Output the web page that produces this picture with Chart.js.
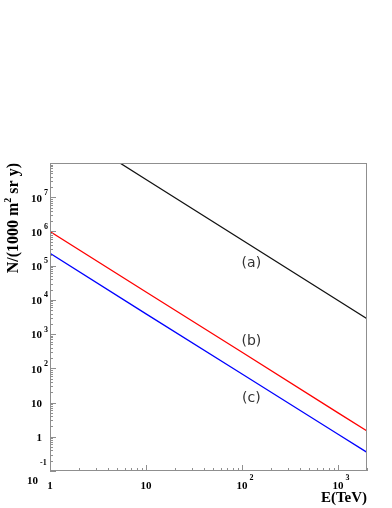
<!DOCTYPE html>
<html>
<head>
<meta charset="utf-8">
<script src="https://cdn.jsdelivr.net/npm/chart.js@4.4.0/dist/chart.umd.min.js"></script>
<style>
html, body { margin: 0; padding: 0; background: #fff; }
canvas { display: block; }
</style>
</head>
<body>
<canvas id="fluxChart" width="392" height="508"></canvas>
<script>
// values (log-log, straight lines)
const energies = [1, 10, 100, 1000, 2000];
const curveA = [1.95e9, 3.3e7, 5.6e5, 9.6e3, 2.8e3];
const curveB = [1.0e6, 1.7e4, 294, 5.0, 1.48];
const curveC = [2.3e5, 3.9e3, 68, 1.19, 0.35];

const curveNames = ['(a)', '(b)', '(c)'];
const nameE = [125, 125, 125];
const nameN = [1.2e5, 600, 13];

const xTickValues = [1, 10, 100, 1000];
const xTickBase = ['1', '10', '10', '10'];
const xTickExp = ['', '', '2', '3'];
const yTickValues = [0.1, 1, 10, 100, 1e3, 1e4, 1e5, 1e6, 1e7];
const yTickBase = ['10', '1', '10', '10', '10', '10', '10', '10', '10'];
const yTickExp = ['-1', '', '', '2', '3', '4', '5', '6', '7'];

const xTitle = 'E(TeV)';
const yTitle = ['N/(1000 m', '2', ' sr y)'];

const toPoints = (vals) => vals.map((v, i) => ({ x: energies[i], y: v }));

const axisColor = '#8f8f8f';
const serif = '"Liberation Serif", "Times New Roman", serif';

const rootAxes = {
    id: 'rootAxes',
    afterDraw(chart) {
        const ctx = chart.ctx;
        const area = chart.chartArea;
        const xs = chart.scales.x;
        const ys = chart.scales.y;
        ctx.save();

        // frame
        ctx.strokeStyle = axisColor;
        ctx.lineWidth = 1;
        ctx.strokeRect(area.left + 0.5, area.top + 0.5, area.right - area.left - 1, area.bottom - area.top - 1);

        // log ticks, drawn inside the frame
        ctx.beginPath();
        for (let d = -1; d <= 8; d++) {
            for (let k = 1; k <= 9; k++) {
                const v = k * Math.pow(10, d);
                const len = k === 1 ? 6 : 3;
                if (v >= ys.min && v <= ys.max) {
                    const py = Math.round(ys.getPixelForValue(v)) + 0.5;
                    ctx.moveTo(area.left, py);
                    ctx.lineTo(area.left + len, py);
                }
                if (v >= xs.min && v <= xs.max) {
                    const px = Math.round(xs.getPixelForValue(v)) + 0.5;
                    ctx.moveTo(px, area.bottom);
                    ctx.lineTo(px, area.bottom - len);
                }
            }
        }
        ctx.stroke();

        // tick labels
        ctx.fillStyle = '#000';
        ctx.textBaseline = 'middle';
        yTickValues.forEach((v, i) => {
            const py = ys.getPixelForValue(v);
            const low = i === 0;
            const bx = area.left - (low ? 12 : 8);
            ctx.font = 'bold 11px ' + serif;
            ctx.textAlign = 'right';
            ctx.fillText(yTickBase[i], bx, py + (low ? 10 : 1.5));
            if (yTickExp[i]) {
                ctx.font = 'bold 8px ' + serif;
                ctx.textAlign = 'left';
                ctx.fillText(yTickExp[i], bx + 2, py + (low ? -8 : -4.5));
            }
        });
        xTickValues.forEach((v, i) => {
            const px = xs.getPixelForValue(v);
            ctx.font = 'bold 11px ' + serif;
            ctx.textAlign = 'center';
            const w = ctx.measureText(xTickBase[i]).width;
            ctx.fillText(xTickBase[i], px, area.bottom + 15);
            if (xTickExp[i]) {
                ctx.font = 'bold 8px ' + serif;
                ctx.textAlign = 'left';
                ctx.fillText(xTickExp[i], px + w / 2 + 2, area.bottom + 7);
            }
        });

        // axis titles
        ctx.textBaseline = 'alphabetic';
        ctx.font = 'bold 15px ' + serif;
        ctx.textAlign = 'right';
        ctx.fillText(xTitle, area.right, area.bottom + 31);

        ctx.translate(18, area.top);
        ctx.rotate(-Math.PI / 2);
        ctx.textAlign = 'left';
        ctx.font = 'bold 16px ' + serif;
        const w1 = ctx.measureText(yTitle[0]).width;
        const w3 = ctx.measureText(yTitle[2]).width;
        ctx.font = 'bold 10px ' + serif;
        const w2 = ctx.measureText(yTitle[1]).width;
        let x0 = -(w1 + w2 + w3);
        ctx.font = 'bold 16px ' + serif;
        ctx.fillText(yTitle[0], x0, 0);
        ctx.font = 'bold 10px ' + serif;
        ctx.fillText(yTitle[1], x0 + w1, -7);
        ctx.font = 'bold 16px ' + serif;
        ctx.fillText(yTitle[2], x0 + w1 + w2, 0);
        ctx.restore();

        // curve names
        ctx.save();
        ctx.fillStyle = '#333';
        ctx.font = '14px "DejaVu Sans", sans-serif';
        ctx.textAlign = 'center';
        ctx.textBaseline = 'middle';
        curveNames.forEach((t, i) => {
            ctx.fillText(t, xs.getPixelForValue(nameE[i]), ys.getPixelForValue(nameN[i]));
        });
        ctx.restore();
    }
};

new Chart(document.getElementById('fluxChart').getContext('2d'), {
    type: 'line',
    data: {
        datasets: [
            { label: '(a)', data: toPoints(curveA), borderColor: '#111', borderWidth: 1.3, pointRadius: 0 },
            { label: '(b)', data: toPoints(curveB), borderColor: '#ff0000', borderWidth: 1.3, pointRadius: 0 },
            { label: '(c)', data: toPoints(curveC), borderColor: '#0000ff', borderWidth: 1.3, pointRadius: 0 }
        ]
    },
    options: {
        responsive: false,
        animation: false,
        devicePixelRatio: 1,
        layout: { padding: { left: 50, top: 163, right: 25, bottom: 37 } },
        scales: {
            x: { type: 'logarithmic', min: 1, max: 2000, display: false },
            y: { type: 'logarithmic', min: 0.1, max: 1e8, display: false }
        },
        plugins: {
            legend: { display: false },
            tooltip: { enabled: false }
        }
    },
    plugins: [rootAxes]
});
</script>
</body>
</html>
